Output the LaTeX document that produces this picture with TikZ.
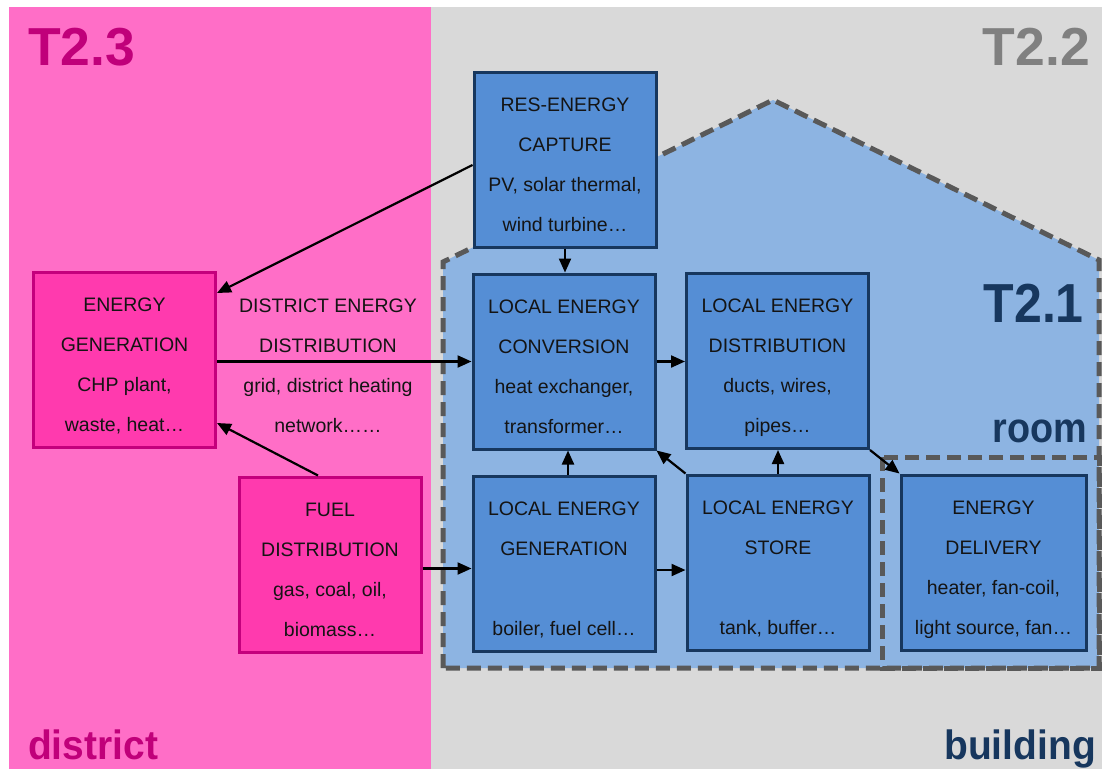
\documentclass[tikz,border=0pt]{standalone}
\usepackage{fontspec}
\usepackage{graphicx}
\setmainfont{Liberation Sans}
\usetikzlibrary{arrows.meta,calc}
\definecolor{pinkbg}{HTML}{FF6EC7}
\definecolor{pinkbox}{HTML}{FF3AAE}
\definecolor{pinkline}{HTML}{C4007D}
\definecolor{pinktext}{HTML}{C0007A}
\definecolor{graybg}{HTML}{D9D9D9}
\definecolor{graytext}{HTML}{808080}
\definecolor{housefill}{HTML}{8DB4E2}
\definecolor{dashgray}{HTML}{595959}
\definecolor{bluebox}{HTML}{558ED5}
\definecolor{blueline}{HTML}{17375E}
\definecolor{bluetext}{HTML}{17375E}
\definecolor{txtdark}{HTML}{141414}
\newcommand{\hsq}[2]{\scalebox{#1}[1]{#2}}
\begin{document}
\begin{tikzpicture}[x=1pt,y=-1pt,
  box/.style={draw, line width=3pt, minimum width=182pt, minimum height=175pt, inner sep=0pt},
  pbox/.style={box, fill=pinkbox, draw=pinkline},
  bbox/.style={box, fill=bluebox, draw=blueline},
  txt/.style={align=center, inner sep=0pt, text=txtdark, font=\fontsize{19.5}{40}\selectfont, anchor=north},
  arr/.style={line width=2.2pt, -{Triangle[length=14pt,width=12pt]}},
  dashline/.style={draw=dashgray, line width=5pt, dash pattern=on 14pt off 7pt},
  bigl/.style={font=\fontsize{53.5}{60}\selectfont\bfseries, inner sep=0pt},
  midl/.style={font=\fontsize{41}{48}\selectfont\bfseries, inner sep=0pt}]
\useasboundingbox (0,0) rectangle (1102,769);
\fill[white] (0,0) rectangle (1102,769);
\fill[pinkbg] (9,7) rectangle (431,769);
\fill[graybg] (431,7) rectangle (1102,769);
% house
\fill[housefill] (443,668) -- (443,262) -- (773,100) -- (1099,260) -- (1099,668) -- cycle;
\draw[dashline] (443,668) -- (443,262) -- (773,100) -- (1099,260) -- (1099,668) -- cycle;
\draw[dashline] (882,457) rectangle (1099,668);
% labels
\node[bigl, text=pinktext, anchor=north west] (t23) at (28,28) {T2.3};
\node[bigl, text=graytext, anchor=north east] (t22) at (1090,28) {T2.2};
\node[font=\fontsize{55}{60}\selectfont\bfseries, inner sep=0pt, text=bluetext, anchor=north east] (t21) at (1084,284) {\hsq{0.91}{T2.1}};
\node[font=\fontsize{42}{48}\selectfont\bfseries, inner sep=0pt, text=bluetext, anchor=base east] (room) at (1087,442) {\hsq{0.9}{room}};
\node[midl, text=pinktext, anchor=base west] (district) at (28,759) {\hsq{0.95}{district}};
\node[midl, text=bluetext, anchor=base east] (building) at (1096,759) {\hsq{0.95}{building}};
% boxes
\node[pbox] (eg) at (124.5,359.5) {};
\node[pbox] (fuel) at (330,564.5) {};
\node[bbox] (res) at (565,159.5) {};
\node[bbox] (lec) at (564,361.5) {};
\node[bbox] (led) at (777.5,361) {};
\node[bbox] (leg) at (564,564) {};
\node[bbox] (les) at (778,562.5) {};
\node[bbox, minimum width=185pt] (ed) at (993.5,562.5) {};
% box texts
\node[txt] (egt) at ([yshift=-27pt]eg.north) {ENERGY\\GENERATION\\CHP plant,\\waste, heat…};
\node[txt] (fuelt) at ([yshift=-27pt]fuel.north) {FUEL\\DISTRIBUTION\\gas, coal, oil,\\biomass…};
\node[txt] (rest) at ([yshift=-27pt]res.north) {RES-ENERGY\\CAPTURE\\PV, solar thermal,\\wind turbine…};
\node[txt] (lect) at ([yshift=-27pt]lec.north) {LOCAL ENERGY\\CONVERSION\\heat exchanger,\\transformer…};
\node[txt] (ledt) at ([yshift=-27pt]led.north) {LOCAL ENERGY\\DISTRIBUTION\\ducts, wires,\\pipes…};
\node[txt] (legt) at ([yshift=-27pt]leg.north) {LOCAL ENERGY\\GENERATION\\[40pt]boiler, fuel cell…};
\node[txt] (lest) at ([yshift=-27pt]les.north) {LOCAL ENERGY\\STORE\\[40pt]tank, buffer…};
\node[txt] (edt) at ([yshift=-27pt]ed.north) {ENERGY\\DELIVERY\\heater, fan-coil,\\light source, fan…};
\node[txt] (dist) at (328,299) {DISTRICT ENERGY\\DISTRIBUTION\\grid, district heating\\network……};
% arrows
\draw[arr] ([yshift=-5.5pt]res.west) -- ([yshift=66.5pt]eg.east);
\draw[arr] (eg.east |- lec.west) -- (lec.west);
\draw[arr] ([xshift=-12pt]fuel.north) -- ([yshift=-63.5pt]eg.east);
\draw[arr] ([yshift=-4pt]fuel.east) -- ([yshift=-4pt]fuel.east -| leg.west);
\draw[arr] (res.south) -- (res.south |- lec.north);
\draw[arr] ([xshift=4pt]leg.north) -- ([xshift=4pt]leg.north |- lec.south);
\draw[arr] (lec.east) -- (lec.east -| led.west);
\draw[arr] ([yshift=-6pt]leg.east) -- ([yshift=-6pt]leg.east -| les.west);
\draw[arr] (les.north west) -- (lec.south east);
\draw[arr] (les.north) -- (les.north |- led.south);
\draw[arr] (led.south east) -- (ed.north west);
\end{tikzpicture}
\end{document}
